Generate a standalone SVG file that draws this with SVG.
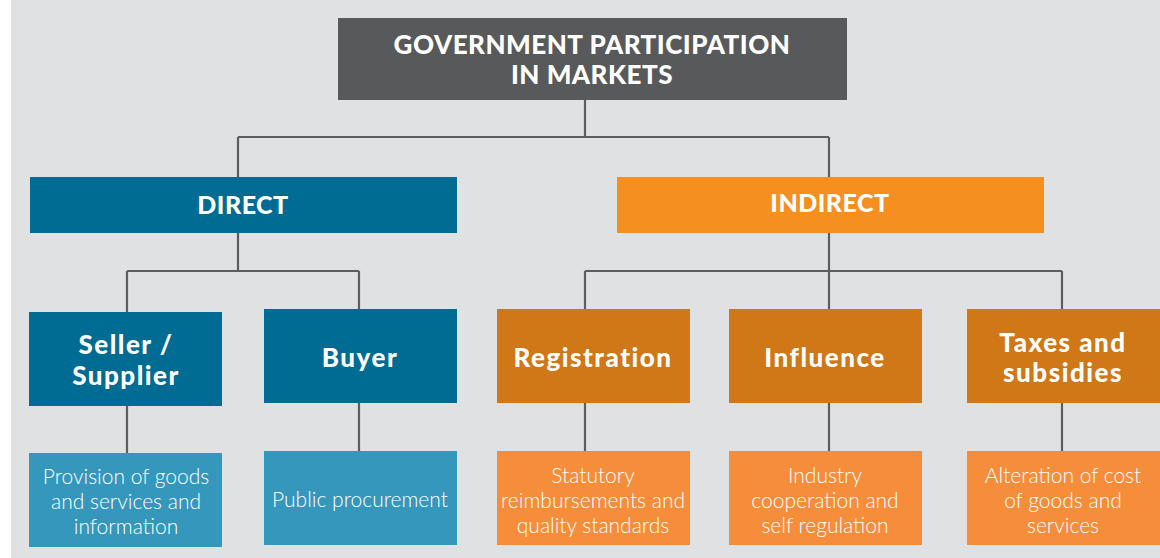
<svg xmlns="http://www.w3.org/2000/svg" width="1160" height="558" viewBox="0 0 1160 558">
  <style>
    .bg { fill: #e0e1e3; }
    .root { fill: #58595b; }
    .direct { fill: #006c94; }
    .indirect { fill: #f58f20; }
    .role-d { fill: #006c94; }
    .role-i { fill: #d07717; }
    .desc-d { fill: #3597bb; }
    .desc-i { fill: #f58d3a; }
    .head { font-family: "Lato", "Liberation Sans", sans-serif; font-weight: 900; fill: #ffffff; text-anchor: middle; }
    .title { font-size: 26px; letter-spacing: 0.5px; }
    .branch { font-size: 25px; letter-spacing: 0.5px; }
    .role { font-size: 26px; letter-spacing: 1.5px; }
    .body { font-family: "Lato", "Liberation Sans", sans-serif; font-weight: 300; fill: #ffffff; text-anchor: middle; font-size: 21px; }
    .link { fill: none; stroke: #5d5e60; stroke-width: 2.2; }
  </style>

  <rect x="0" y="0" width="1160" height="558" fill="#ffffff"/>
  <rect class="bg" x="11" y="0" width="1149" height="558"/>

  <!-- connectors -->
  <g id="connectors">
    <path class="link" d="M585 100 V137 M238 137 H829 M238 137 V177 M829 137 V177"/>
    <path class="link" d="M238 233 V271 M127 271 H359 M127 271 V312 M359 271 V309"/>
    <path class="link" d="M829 233 V271 M585 271 H1062 M585 271 V309 M829 271 V309 M1062 271 V309"/>
    <path class="link" d="M127 406 V453 M359 403 V451 M585 403 V451 M829 403 V451 M1062 403 V451"/>
  </g>

  <g id="root">
    <rect class="root" x="338" y="18" width="509" height="82"/>
    <text class="head title" x="592" y="54">GOVERNMENT PARTICIPATION</text>
    <text class="head title" x="592" y="84">IN MARKETS</text>
  </g>

  <g id="direct">
    <rect class="direct" x="30" y="177" width="427" height="56"/>
    <text class="head branch" x="243" y="214">DIRECT</text>
  </g>

  <g id="indirect">
    <rect class="indirect" x="617" y="177" width="427" height="56"/>
    <text class="head branch" x="830" y="212">INDIRECT</text>
  </g>

  <g id="seller">
    <rect class="role-d" x="29" y="312" width="193" height="94"/>
    <text class="head role" x="126" y="354">Seller /</text>
    <text class="head role" x="126" y="385">Supplier</text>
  </g>

  <g id="buyer">
    <rect class="role-d" x="264" y="309" width="193" height="94"/>
    <text class="head role" x="360" y="367">Buyer</text>
  </g>

  <g id="registration">
    <rect class="role-i" x="497" y="309" width="193" height="94"/>
    <text class="head role" x="593" y="367">Registration</text>
  </g>

  <g id="influence">
    <rect class="role-i" x="729" y="309" width="193" height="94"/>
    <text class="head role" x="825" y="367">Influence</text>
  </g>

  <g id="taxes">
    <rect class="role-i" x="967" y="309" width="193" height="94"/>
    <text class="head role" x="1063" y="352">Taxes and</text>
    <text class="head role" x="1063" y="382">subsidies</text>
  </g>

  <g id="provision">
    <rect class="desc-d" x="29" y="453" width="193" height="94"/>
    <text class="body" x="126" y="484">Provision of goods</text>
    <text class="body" x="126" y="509">and services and</text>
    <text class="body" x="126" y="534">information</text>
  </g>

  <g id="procurement">
    <rect class="desc-d" x="264" y="451" width="193" height="94"/>
    <text class="body" x="360" y="507">Public procurement</text>
  </g>

  <g id="statutory">
    <rect class="desc-i" x="497" y="451" width="193" height="94"/>
    <text class="body" x="593" y="483">Statutory</text>
    <text class="body" x="593" y="508">reimbursements and</text>
    <text class="body" x="593" y="533">quality standards</text>
  </g>

  <g id="cooperation">
    <rect class="desc-i" x="729" y="451" width="193" height="94"/>
    <text class="body" x="825" y="483">Industry</text>
    <text class="body" x="825" y="508">cooperation and</text>
    <text class="body" x="825" y="533">self regulation</text>
  </g>

  <g id="alteration">
    <rect class="desc-i" x="967" y="451" width="193" height="94"/>
    <text class="body" x="1063" y="483">Alteration of cost</text>
    <text class="body" x="1063" y="508">of goods and</text>
    <text class="body" x="1063" y="533">services</text>
  </g>
</svg>
